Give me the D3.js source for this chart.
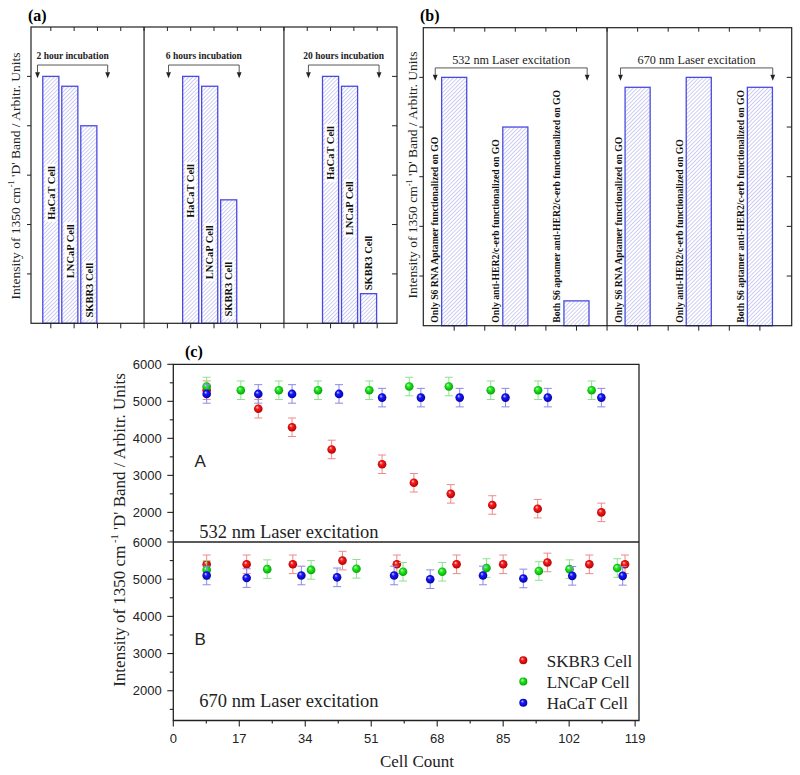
<!DOCTYPE html>
<html><head><meta charset="utf-8">
<script src="https://cdn.jsdelivr.net/npm/d3@7"></script>
<style>body{margin:0;background:#fff}svg{display:block}</style>
</head><body>
<svg id="chart" width="800" height="775"></svg>
<script>
// ---------- DATA ----------
// panel (a)
const incubations = ["2 hour incubation", "6 hours incubation", "20 hours incubation"];
const cellLines = ["HaCaT Cell", "LNCaP Cell", "SKBR3 Cell"];
const hacatIncub = [5.0, 5.0, 5.0];
const lncapIncub = [4.8, 4.8, 4.8];
const skbr3Incub = [4.0, 2.5, 0.6];
// panel (b)
const lasers = ["532 nm Laser excitation", "670 nm Laser excitation"];
const probes = ["Only S6 RNA Aptamer functionalized on GO",
                "Only anti-HER2/c-erb functionalized on GO",
                "Both S6 aptamer anti-HER2/c-erb functionalized on GO"];
const probe532 = [5.0, 4.0, 0.5];
const probe670 = [4.8, 5.0, 4.8];
// panel (c)
const seriesNames = ["SKBR3 Cell", "LNCaP Cell", "HaCaT Cell"];
const skbr3A_x = [8.6, 21.9, 30.6, 40.8, 53.8, 62.0, 71.5, 82.2, 93.9, 110.3];
const skbr3A_y = [5300, 4800, 4300, 3700, 3300, 2800, 2500, 2200, 2100, 2000];
const lncapA_x = [8.6, 17.4, 27.2, 37.3, 50.5, 60.8, 71.0, 81.8, 94.0, 107.8];
const lncapA_y = [5400, 5300, 5300, 5300, 5300, 5400, 5400, 5300, 5300, 5300];
const hacatA_x = [8.6, 21.9, 30.6, 42.7, 53.8, 63.8, 73.8, 85.6, 96.5, 110.3];
const hacatA_y = [5200, 5200, 5200, 5200, 5100, 5100, 5100, 5100, 5100, 5100];
const skbr3B_x = [8.6, 18.9, 30.8, 43.6, 57.6, 73.0, 85.0, 96.4, 107.2, 116.4];
const skbr3B_y = [5400, 5400, 5400, 5500, 5400, 5400, 5400, 5450, 5400, 5400];
const lncapB_x = [8.6, 24.2, 35.5, 47.2, 59.2, 69.3, 80.7, 94.2, 102.1, 114.4];
const lncapB_y = [5250, 5270, 5250, 5280, 5200, 5200, 5300, 5220, 5270, 5300];
const hacatB_x = [8.6, 18.9, 33.0, 42.2, 56.9, 66.2, 79.8, 90.2, 102.8, 115.8];
const hacatB_y = [5100, 5030, 5100, 5050, 5100, 5000, 5100, 5020, 5090, 5090];
const errorC = 250;
const yTicksC = [2000, 3000, 4000, 5000, 6000];
const xTicksC = [0, 17, 34, 51, 68, 85, 102, 119];

// ---------- SETUP ----------
const svg = d3.select("#chart");
const serif = "'Liberation Serif','Times New Roman',serif";
const sans = "'Liberation Sans',Arial,sans-serif";
const defs = svg.append("defs");
const hp = 2.8;
const pat = defs.append("pattern").attr("id", "hatch").attr("patternUnits", "userSpaceOnUse")
  .attr("width", hp).attr("height", hp).attr("patternTransform", "rotate(45)");
pat.append("rect").attr("width", hp).attr("height", hp).attr("fill", "#fff");
pat.append("line").attr("x1", 0).attr("y1", 0).attr("x2", 0).attr("y2", hp)
  .attr("stroke", "#7a7ade").attr("stroke-width", 0.75);

const colorsC = [
  {hi: "#ffd6d6", mid: "#ff1a1a", lo: "#a80000", err: "#ee8a8a"},
  {hi: "#d8ffd8", mid: "#22ee22", lo: "#009a00", err: "#8fe08f"},
  {hi: "#d6d6ff", mid: "#1a1aff", lo: "#0000a0", err: "#8a8ae6"}
];
colorsC.forEach((c, i) => {
  const g = defs.append("radialGradient").attr("id", "ball" + i).attr("cx", "50%").attr("cy", "50%")
    .attr("r", "55%").attr("fx", "35%").attr("fy", "30%");
  g.append("stop").attr("offset", "0%").attr("stop-color", c.hi);
  g.append("stop").attr("offset", "35%").attr("stop-color", c.mid);
  g.append("stop").attr("offset", "100%").attr("stop-color", c.lo);
});

function yLabel(x, y, size) {
  const t = svg.append("text").attr("transform", `translate(${x},${y}) rotate(-90)`)
    .attr("text-anchor", "middle").attr("font-family", serif).attr("font-size", size)
    .attr("fill", "#222").attr("dy", "0.35em");
  t.append("tspan").text("Intensity of 1350 cm");
  t.append("tspan").attr("font-size", size * 0.62).attr("dy", -size * 0.42).text(size > 15 ? " -1" : "-1");
  t.append("tspan").attr("dy", size * 0.42).text(" 'D' Band / Arbitr. Units");
}
function bracket(x1, x2, yLine, yTip, label, yText, bold, size) {
  const ah = 6, aw = 2.4;
  svg.append("path").attr("d", `M${x1},${yTip - ah} L${x1},${yLine} L${x2},${yLine} L${x2},${yTip - ah}`)
    .attr("fill", "none").attr("stroke", "#444").attr("stroke-width", 0.9);
  [x1, x2].forEach(x => svg.append("path")
    .attr("d", `M${x - aw},${yTip - ah} L${x + aw},${yTip - ah} L${x},${yTip} Z`).attr("fill", "#222"));
  svg.append("text").attr("x", (x1 + x2) / 2).attr("y", yText).attr("text-anchor", "middle")
    .attr("font-family", serif).attr("font-size", size).attr("font-weight", bold ? "bold" : "normal")
    .attr("fill", "#222").text(label);
}
function frameTicks(x, y, xTickVals, yTickVals) {
  const [x0, x1] = x.range(), [y0, y1] = y.range();
  svg.append("rect").attr("x", x0).attr("y", y1).attr("width", x1 - x0).attr("height", y0 - y1)
    .attr("fill", "none").attr("stroke", "#222").attr("stroke-width", 1.2);
  xTickVals.forEach(v => {
    svg.append("line").attr("x1", x(v)).attr("x2", x(v)).attr("y1", y0).attr("y2", y0 + 5).attr("stroke", "#222");
    svg.append("line").attr("x1", x(v)).attr("x2", x(v)).attr("y1", y1).attr("y2", y1 + 4).attr("stroke", "#222");
  });
  yTickVals.forEach(v => {
    svg.append("line").attr("x1", x1).attr("x2", x1 - 5).attr("y1", y(v)).attr("y2", y(v)).attr("stroke", "#222");
    svg.append("line").attr("x1", x0).attr("x2", x0 - 4).attr("y1", y(v)).attr("y2", y(v)).attr("stroke", "#222");
  });
}

// ---------- PANEL (a) ----------
const xa = d3.scaleLinear().domain([-0.85, 14.85]).range([31, 397]);
const ya = d3.scaleLinear().domain([0, 6]).range([323.3, 27]);
const barWA = 0.69;
const incubSeries = [hacatIncub, lncapIncub, skbr3Incub];
const barsA = [];
incubations.forEach((inc, g) => cellLines.forEach((cell, i) => {
  barsA.push({g, i, cell, v: incubSeries[i][g], pos: g * 6 + i * 0.815});
}));
svg.append("g").selectAll("rect").data(barsA).join("rect")
  .attr("x", d => xa(d.pos - barWA / 2)).attr("width", xa(barWA) - xa(0))
  .attr("y", d => ya(d.v)).attr("height", d => ya(0) - ya(d.v))
  .attr("fill", "url(#hatch)").attr("stroke", "#4a4ae2").attr("stroke-width", 1.3);
const labelYA = [[2.64, 1.46, 0.67], [2.68, 1.44, 0.69], [3.45, 2.33, 1.22]];
barsA.forEach(d => {
  const gg = svg.append("g").attr("transform", `translate(${xa(d.pos)},${ya(labelYA[d.g][d.i])}) rotate(-90)`);
  const t = gg.append("text").attr("text-anchor", "middle").attr("dy", "0.35em")
    .attr("font-family", serif).attr("font-weight", "bold").attr("font-size", 10.5).attr("fill", "#111").text(d.cell);
  const bb = t.node().getBBox();
  gg.insert("rect", "text").attr("x", bb.x - 2).attr("y", bb.y).attr("width", bb.width + 4).attr("height", bb.height)
    .attr("fill", "#fff");
});
frameTicks(xa, ya, d3.range(0, 15), d3.range(1, 6));
[4, 10].forEach(v => svg.append("line").attr("x1", xa(v)).attr("x2", xa(v)).attr("y1", ya(0)).attr("y2", ya(6))
  .attr("stroke", "#222").attr("stroke-width", 1.2));
incubations.forEach((inc, g) => {
  const l = g === 0 ? -0.57 : g * 6 - 0.95, r = g === 0 ? 2.44 : g * 6 + 2.08;
  bracket(xa(l), xa(r), ya(5.23), ya(4.96), inc, ya(5.35), true, 9.5);
});
yLabel(15, 176, 13.5);
svg.append("text").attr("x", 28).attr("y", 21).attr("font-family", serif).attr("font-weight", "bold")
  .attr("font-size", 16).text("(a)");

// ---------- PANEL (b) ----------
const xb = d3.scaleLinear().domain([-1.01, 11.04]).range([423.3, 791.7]);
const yb = d3.scaleLinear().domain([0, 6]).range([325.7, 27.7]);
const barWB = 0.82;
const barsB = [];
[probe532, probe670].forEach((arr, g) => probes.forEach((p, i) => barsB.push({g, i, p, v: arr[i], pos: g * 6 + i * 2})));
svg.append("g").selectAll("rect").data(barsB).join("rect")
  .attr("x", d => xb(d.pos - barWB / 2)).attr("width", xb(barWB) - xb(0))
  .attr("y", d => yb(d.v)).attr("height", d => yb(0) - yb(d.v))
  .attr("fill", "url(#hatch)").attr("stroke", "#4a4ae2").attr("stroke-width", 1.3);
barsB.forEach(d => {
  svg.append("text").attr("transform", `translate(${xb(d.pos) - 19.5},${yb(0) - 3}) rotate(-90)`)
    .attr("dy", "0.35em").attr("font-family", serif).attr("font-weight", "bold").attr("font-size", 9.7)
    .attr("fill", "#111").text(d.p);
});
frameTicks(xb, yb, d3.range(0, 11), d3.range(1, 6));
svg.append("line").attr("x1", xb(5)).attr("x2", xb(5)).attr("y1", yb(0)).attr("y2", yb(6))
  .attr("stroke", "#222").attr("stroke-width", 1.2);
lasers.forEach((las, g) => {
  const l = g === 0 ? -0.62 : 5.44, r = g === 0 ? 4.35 : 10.42;
  bracket(xb(l), xb(r), yb(5.19), yb(4.93), las, yb(5.26), false, 12.2);
});
yLabel(412.7, 175, 13.5);
svg.append("text").attr("x", 420).attr("y", 21).attr("font-family", serif).attr("font-weight", "bold")
  .attr("font-size", 16).text("(b)");

// ---------- PANEL (c) ----------
const xc = d3.scaleLinear().domain([0, 120]).range([173.3, 639]);
const yA = d3.scaleLinear().domain([1200, 6000]).range([542, 364.3]);
const yB = d3.scaleLinear().domain([1200, 6000]).range([720.5, 542]);
const seriesA = [[skbr3A_x, skbr3A_y], [lncapA_x, lncapA_y], [hacatA_x, hacatA_y]];
const seriesB = [[skbr3B_x, skbr3B_y], [lncapB_x, lncapB_y], [hacatB_x, hacatB_y]];

function drawSeries(series, ys) {
  series.forEach(([xs, vs], si) => {
    const pts = xs.map((x, k) => ({x, v: vs[k]}));
    const g = svg.append("g");
    const eb = g.selectAll("g.eb").data(pts).join("g").attr("stroke", colorsC[si].err).attr("stroke-width", 1);
    eb.append("line").attr("x1", d => xc(d.x)).attr("x2", d => xc(d.x))
      .attr("y1", d => ys(d.v - errorC)).attr("y2", d => ys(d.v + errorC));
    [-1, 1].forEach(s => eb.append("line").attr("x1", d => xc(d.x) - 4).attr("x2", d => xc(d.x) + 4)
      .attr("y1", d => ys(d.v + s * errorC)).attr("y2", d => ys(d.v + s * errorC)));
    g.selectAll("circle").data(pts).join("circle").attr("cx", d => xc(d.x)).attr("cy", d => ys(d.v))
      .attr("r", 4.3).attr("fill", `url(#ball${si})`);
  });
}
drawSeries(seriesA, yA);
drawSeries(seriesB, yB);

// frame
const axC = svg.append("g").attr("stroke", "#222").attr("stroke-width", 1.3).attr("fill", "none");
axC.append("path").attr("d", `M${xc(0)},${yA(6000)} L${xc(120)},${yA(6000)} L${xc(120)},${yB(1200)} L${xc(0)},${yB(1200)} Z`);
axC.append("line").attr("x1", xc(0)).attr("x2", xc(120)).attr("y1", yA(1200)).attr("y2", yA(1200));
// y ticks
[yA, yB].forEach(ys => {
  d3.range(1500, 6001, 500).forEach(v => {
    const major = v % 1000 === 0;
    svg.append("line").attr("x1", xc(0)).attr("x2", xc(0) - (major ? 6 : 3.5)).attr("y1", ys(v)).attr("y2", ys(v))
      .attr("stroke", "#222").attr("stroke-width", 1.1);
  });
  yTicksC.forEach(v => svg.append("text").attr("x", 161.7).attr("y", ys(v)).attr("dy", "0.35em")
    .attr("text-anchor", "end").attr("font-family", sans).attr("font-size", 13).attr("fill", "#222").text(v));
});
// x ticks
d3.range(0, 120, 8.5).forEach(v => {
  const major = Math.abs(v % 17) < 1e-6;
  svg.append("line").attr("x1", xc(v)).attr("x2", xc(v)).attr("y1", yB(1200)).attr("y2", yB(1200) + (major ? 6 : 3))
    .attr("stroke", "#222").attr("stroke-width", 1.1);
});
xTicksC.forEach(v => svg.append("text").attr("x", xc(v)).attr("y", 742.5).attr("text-anchor", "middle")
  .attr("font-family", sans).attr("font-size", 13).attr("fill", "#222").text(v));
svg.append("text").attr("x", 417).attr("y", 767).attr("text-anchor", "middle").attr("font-family", serif)
  .attr("font-size", 17).attr("fill", "#222").text("Cell Count");
yLabel(119, 530, 17);
svg.append("text").attr("x", 185).attr("y", 357).attr("font-family", serif).attr("font-weight", "bold")
  .attr("font-size", 16).text("(c)");
svg.append("text").attr("x", 194.5).attr("y", 466.5).attr("font-family", sans).attr("font-size", 17).attr("fill", "#222").text("A");
svg.append("text").attr("x", 194.5).attr("y", 645).attr("font-family", sans).attr("font-size", 17).attr("fill", "#222").text("B");
svg.append("text").attr("x", 199.3).attr("y", 537.5).attr("font-family", serif).attr("font-size", 18.5).attr("fill", "#222").text(lasers[0]);
svg.append("text").attr("x", 199.3).attr("y", 707.3).attr("font-family", serif).attr("font-size", 18.5).attr("fill", "#222").text(lasers[1]);
// legend
seriesNames.forEach((n, i) => {
  const y = 660.3 + i * 21.2;
  svg.append("circle").attr("cx", 523.3).attr("cy", y).attr("r", 4).attr("fill", `url(#ball${i})`);
  svg.append("text").attr("x", 546.7).attr("y", y + 6.5).attr("font-family", serif).attr("font-size", 17)
    .attr("fill", "#222").text(n);
});
</script>
</body></html>
